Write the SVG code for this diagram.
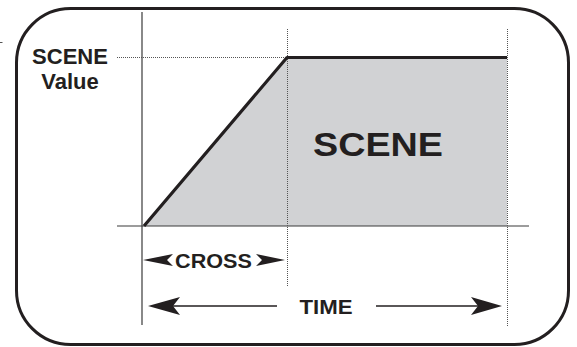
<svg xmlns="http://www.w3.org/2000/svg" width="577" height="347" viewBox="0 0 577 347">
<style>
.txt{font-family:"Liberation Sans",Arial,sans-serif;font-weight:bold;fill:#231f20;text-anchor:middle}
.axis{stroke:#3a3a3a;stroke-width:1.2;fill:none}
.dot{stroke:#555;stroke-width:1;stroke-dasharray:1 1;fill:none}
.thick{stroke:#231f20;stroke-width:3.2;fill:none;stroke-linejoin:round}
.head{fill:#231f20;stroke:none}
.shaft{stroke:#231f20;stroke-width:1.3}
</style>
<rect width="577" height="347" fill="#fff"/>
<rect id="frame" x="16.5" y="8.5" width="552" height="336" rx="54" ry="54" fill="none" stroke="#231f20" stroke-width="3"/>
<line x1="0" y1="42.5" x2="2.5" y2="42.5" stroke="#555" stroke-width="1"/>
<g id="area">
<polygon points="144,226 287,57 507,57 507,226" fill="#d1d2d4"/>
</g>
<g id="connectors">
<line class="axis" x1="142" y1="12" x2="142" y2="325"/>
<line class="axis" x1="117" y1="226" x2="529" y2="226"/>
<line class="dot" x1="117" y1="57.5" x2="287" y2="57.5"/>
<line class="dot" x1="287.5" y1="29" x2="287.5" y2="287"/>
<line class="dot" x1="507.5" y1="29" x2="507.5" y2="326"/>
<polyline class="thick" points="144,226 287,57.5 507,57.5"/>
<polygon class="head" points="143,260 173,254 167,260 173,266"/>
<polygon class="head" points="285,260 256,254 262,260 256,266"/>
<line class="shaft" x1="172" y1="306" x2="277" y2="306"/>
<polygon class="head" points="148,306 180,297 173,306 180,315"/>
<line class="shaft" x1="376" y1="306" x2="480" y2="306"/>
<polygon class="head" points="502,306 471,297 478,306 471,315"/>
</g>
<g id="label-scene-value">
<text class="txt" x="70" y="64" font-size="22">SCENE</text>
<text class="txt" x="70" y="89" font-size="22">Value</text>
</g>
<g id="label-scene">
<text class="txt" transform="translate(378,156) scale(1.11,1)" x="0" y="0" font-size="34">SCENE</text>
</g>
<g id="label-cross">
<text class="txt" transform="translate(213.5,268) scale(1.08,1)" x="0" y="0" font-size="20">CROSS</text>
</g>
<g id="label-time">
<text class="txt" transform="translate(326,314) scale(1.06,1)" x="0" y="0" font-size="21">TIME</text>
</g>
</svg>
